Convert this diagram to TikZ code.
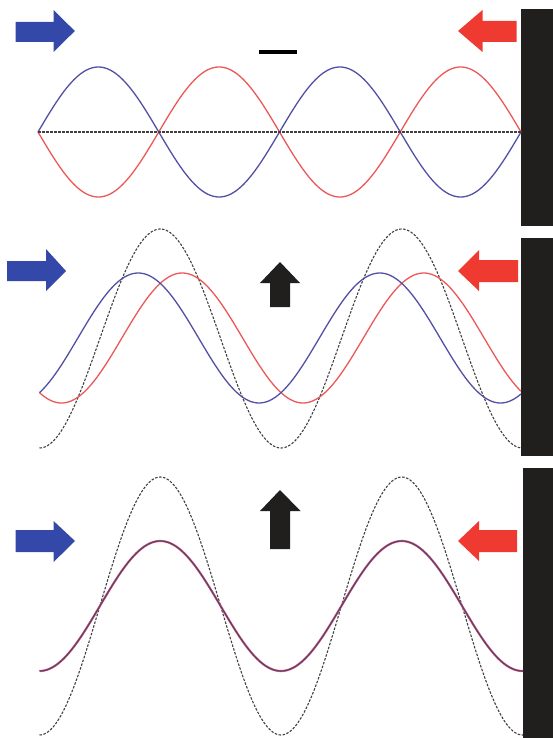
\documentclass[tikz,border=0pt]{standalone}
\usepackage{tikz}

\definecolor{arrowblue}{RGB}{52,72,170}
\definecolor{arrowred}{RGB}{238,58,48}
\definecolor{waveblue}{RGB}{82,80,165}
\definecolor{wavered}{RGB}{236,88,88}
\definecolor{wallgray}{RGB}{33,30,30}

\begin{document}
\begin{tikzpicture}[x=1pt, y=-1pt,
  bluewave/.style={draw=waveblue, line width=1.3},
  redwave/.style={draw=wavered, line width=1.3},
  sumwave/.style={draw=black!75, line width=1.1, dash pattern=on 2.5pt off 1.5pt},
  bluearrow/.style={fill=arrowblue, draw=none},
  redarrow/.style={fill=arrowred, draw=none},
  blackarrow/.style={fill=wallgray, draw=none},
  wall/.style={fill=wallgray, draw=none}]

  \useasboundingbox (0,0) rectangle (553,738);

  % --- PANEL 1: opposite phase ---
  \fill[wall] (521,9) rectangle (553,226);
  \draw[bluearrow] (15.5,22) -- (53.6,22) -- (53.6,10) -- (74.8,31) -- (53.6,52) -- (53.6,42) -- (15.5,42) -- cycle;
  \draw[redarrow] (516.7,21) -- (482.5,21) -- (482.5,10) -- (458,31) -- (482.5,52) -- (482.5,42) -- (516.7,42) -- cycle;
  \draw[line width=3.5] (259,52) -- (297,52);

  \draw[bluewave] plot[domain=38:521, samples=241, smooth] (\x, {132 - 65*sin(((\x-38)/241.5)*360)});
  \draw[redwave] plot[domain=38:521, samples=241, smooth] (\x, {132 + 65*sin(((\x-38)/241.5)*360)});
  \draw[sumwave] (38,132) -- (521,132);

  % --- PANEL 2: partial overlap ---
  \fill[wall] (521,238) rectangle (553,456);
  \draw[bluearrow] (7,261) -- (46,261) -- (46,249) -- (66,271) -- (46,291) -- (46,281) -- (7,281) -- cycle;
  \draw[redarrow] (518,260) -- (479,260) -- (479,250) -- (458,271) -- (479,291) -- (479,282) -- (518,282) -- cycle;
  \draw[blackarrow] (270,307) -- (270,283) -- (260,283) -- (280,262) -- (300,283) -- (290,283) -- (290,307) -- cycle;

  \draw[sumwave] plot[domain=39.5:521, samples=241, smooth] (\x, {338.5 + 109.5*cos(((\x-39.5)/241.5)*360)});
  \draw[redwave] plot[domain=39.5:521, samples=241, smooth] (\x, {338 + 65*cos(((\x-61.5)/241.5)*360)});
  \draw[bluewave] plot[domain=39.5:521, samples=241, smooth] (\x, {338 + 65*cos(((\x-17.5)/241.5)*360)});

  % --- PANEL 3: in phase ---
  \fill[wall] (523,468) rectangle (553,738);
  \draw[bluearrow] (15.5,530) -- (53.6,530) -- (53.6,521) -- (75,541) -- (53.6,562) -- (53.6,552) -- (15.5,552) -- cycle;
  \draw[redarrow] (517,530) -- (479,530) -- (479,521) -- (458,541) -- (479,561) -- (479,552) -- (517,552) -- cycle;
  \draw[blackarrow] (270,549) -- (270,511) -- (260,511) -- (280,490) -- (300.5,511) -- (290,511) -- (290,549) -- cycle;

  \draw[sumwave] plot[domain=39.5:523, samples=241, smooth] (\x, {606 + 129*cos(((\x-39.5)/241.5)*360)});
  \draw[redwave, line width=2.2] plot[domain=39.5:523, samples=241, smooth] (\x, {606 + 65*cos(((\x-39.5)/241.5)*360)});
  \draw[bluewave, line width=1.1, draw=waveblue!85!black] plot[domain=39.5:523, samples=241, smooth] (\x, {606 + 65*cos(((\x-39.5)/241.5)*360)});

\end{tikzpicture}
\end{document}
